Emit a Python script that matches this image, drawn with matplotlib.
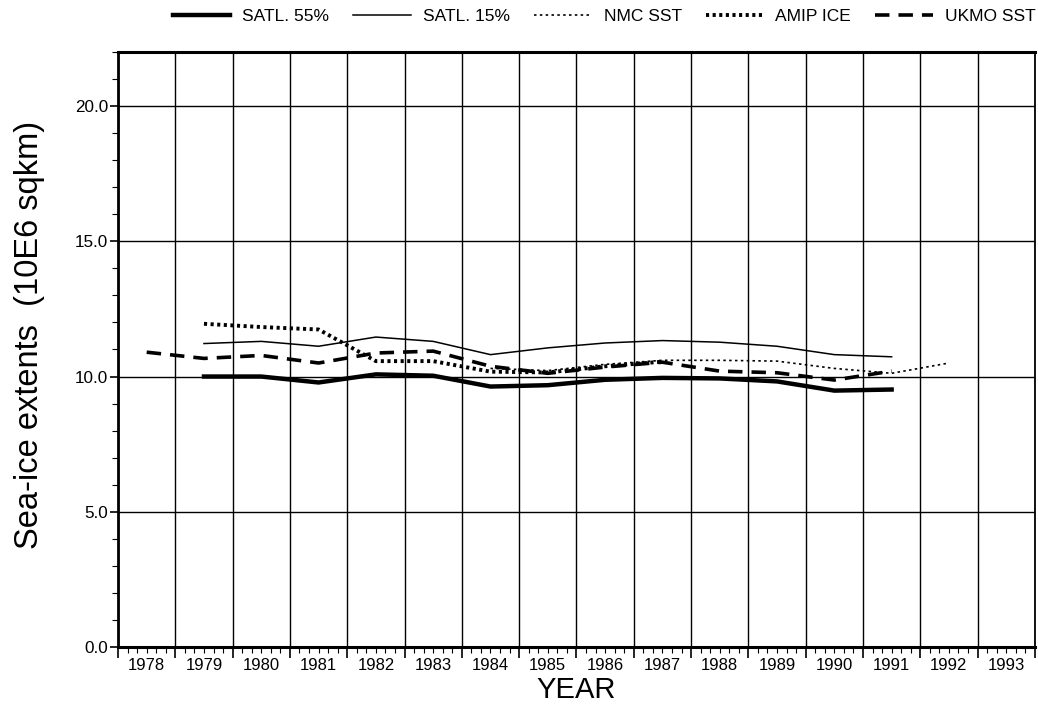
import matplotlib
matplotlib.use("Agg")
import matplotlib.pyplot as plt
from matplotlib.ticker import MultipleLocator, FuncFormatter

plt.rcParams['font.family'] = ['Liberation Sans', 'DejaVu Sans']

# annual means, plotted at mid-year
satl55_x = [1979.5, 1980.5, 1981.5, 1982.5, 1983.5, 1984.5, 1985.5, 1986.5,
            1987.5, 1988.5, 1989.5, 1990.5, 1991.5]
satl55 = [10.0, 10.0, 9.78, 10.08, 10.03, 9.63, 9.68, 9.88, 9.95, 9.93, 9.82, 9.48, 9.52]

satl15_x = satl55_x
satl15 = [11.22, 11.3, 11.12, 11.46, 11.3, 10.81, 11.06, 11.24, 11.33, 11.27, 11.12, 10.81, 10.73]

nmc_x = [1984.5, 1985.5, 1986.5, 1987.5, 1988.5, 1989.5, 1990.5, 1991.5, 1992.5]
nmc = [10.3, 10.22, 10.45, 10.6, 10.6, 10.57, 10.3, 10.12, 10.5]

amip_x = [1979.5, 1980.5, 1981.5, 1982.5, 1983.5, 1984.5, 1985.5, 1986.5, 1987.5]
amip = [11.95, 11.83, 11.74, 10.57, 10.57, 10.18, 10.15, 10.38, 10.55]

ukmo_x = [1978.5, 1979.5, 1980.5, 1981.5, 1982.5, 1983.5, 1984.5, 1985.5, 1986.5,
          1987.5, 1988.5, 1989.5, 1990.5, 1991.5]
ukmo = [10.9, 10.67, 10.78, 10.5, 10.87, 10.94, 10.38, 10.12, 10.35, 10.53, 10.2, 10.14, 9.87, 10.2]

fig = plt.figure(figsize=(10.38, 7.15), dpi=100)
ax = fig.add_axes([0.1137, 0.0951, 0.8833, 0.8322])

ax.plot(satl55_x, satl55, color='black', lw=3.2, ls='-', label='SATL. 55%')
ax.plot(satl15_x, satl15, color='black', lw=1.1, ls='-', label='SATL. 15%')
ax.plot(nmc_x, nmc, color='black', lw=1.2, ls=(0, (1.5, 2)), label='NMC SST')
ax.plot(amip_x, amip, color='black', lw=2.8, ls=(0, (0.8, 0.9)), label='AMIP ICE')
ax.plot(ukmo_x, ukmo, color='black', lw=2.6, ls=(0, (4, 2.5)), label='UKMO SST')

ax.set_xlim(1978, 1994)
ax.set_ylim(0, 22)

ax.xaxis.set_major_locator(MultipleLocator(1))
ax.xaxis.set_minor_locator(MultipleLocator(1 / 6))
ax.xaxis.set_major_formatter(FuncFormatter(lambda v, p: ''))


def year_label(v, p):
    # label each year in the middle of its cell
    if abs((v - 0.5) - round(v - 0.5)) < 1e-6:
        return str(int(round(v - 0.5)))
    return ''


ax.xaxis.set_minor_formatter(FuncFormatter(year_label))
ax.tick_params(axis='x', which='major', direction='out', length=8, width=1.2)
ax.tick_params(axis='x', which='minor', direction='out', length=4, width=0.8,
               labelsize=12, pad=4)

ax.yaxis.set_major_locator(MultipleLocator(5))
ax.yaxis.set_minor_locator(MultipleLocator(1))
ax.yaxis.set_major_formatter(FuncFormatter(lambda v, p: '%.1f' % v))
ax.tick_params(axis='y', which='major', direction='out', length=6, width=1.2,
               labelsize=12.3, pad=1)
ax.tick_params(axis='y', which='minor', direction='out', length=4, width=0.8)

ax.grid(True, which='major', color='black', lw=1.0)

for s in ax.spines.values():
    s.set_linewidth(1.3)
ax.spines['top'].set_linewidth(2.2)
ax.spines['bottom'].set_linewidth(2.2)
ax.spines['left'].set_linewidth(2.0)

ax.set_xlabel('YEAR', fontsize=21, labelpad=2)
ax.set_ylabel('Sea-ice extents  (10E6 sqkm)', fontsize=23.5)
ax.yaxis.set_label_coords(-0.080, 0.525)

fig.legend(loc='upper center', bbox_to_anchor=(0.582, 1.01), ncol=5, frameon=False,
           fontsize=12.5, handlelength=3.3, columnspacing=1.4, handletextpad=0.7)

fig.savefig('out.png', dpi=100)
